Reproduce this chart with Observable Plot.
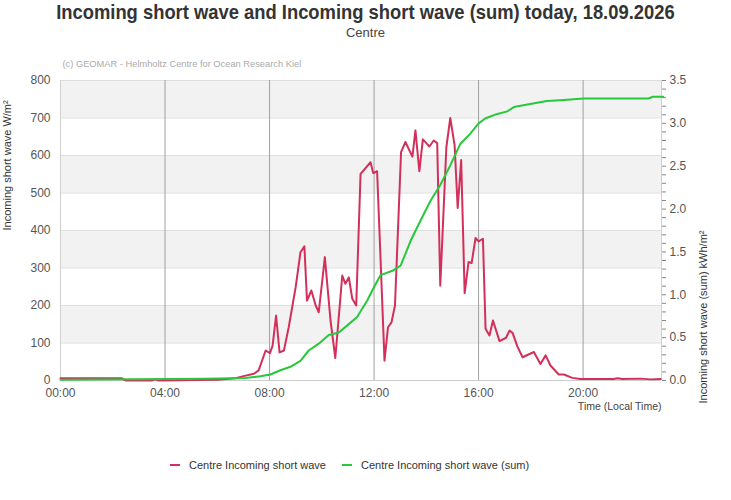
<!DOCTYPE html>
<html><head><meta charset="utf-8">
<script src="https://cdn.jsdelivr.net/npm/d3@7"></script>
<script src="https://cdn.jsdelivr.net/npm/@observablehq/plot@0.6"></script>
<style>
body{margin:0;background:#fff;font-family:"Liberation Sans",Arial,sans-serif;}
#wrap{width:731px;position:relative;}
#head{height:50px;position:relative;}
#title{position:absolute;left:0;right:0;top:0;line-height:24px;text-align:center;font-family:"Liberation Sans",Arial,sans-serif;font-weight:bold;font-size:21px;color:#333;}
#title span{display:inline-block;transform:scaleX(0.875);transform-origin:center;white-space:nowrap;}
#sub{position:absolute;left:0;right:0;top:25px;line-height:16px;text-align:center;font-size:13px;color:#444;}
#legend{height:70px;position:relative;font-size:11px;color:#333;}
.item{position:absolute;top:28px;line-height:14px;white-space:nowrap;}
.mk{display:inline-block;width:10px;height:2px;vertical-align:middle;margin-right:9px;position:relative;top:-1px;}
</style></head>
<body>
<div id="wrap">
  <div id="head"><div id="title"><span></span></div><div id="sub"></div></div>
  <div id="chart"></div>
  <div id="legend"></div>
</div>
<script>
const titleText = "Incoming short wave and Incoming short wave (sum) today, 18.09.2026";
const subtitleText = "Centre";
const creditText = "(c) GEOMAR - Helmholtz Centre for Ocean Research Kiel";
const leftLabel = "Incoming short wave W/m²";
const rightLabel = "Incoming short wave (sum) kWh/m²";
const xLabel = "Time (Local Time)";
const seriesNames = ["Centre Incoming short wave", "Centre Incoming short wave (sum)"];
const seriesColors = ["#d2305a", "#27c83a"];

const xTickHours = [0, 4, 8, 12, 16, 20];
const leftTicks = [0, 100, 200, 300, 400, 500, 600, 700, 800];
const rightMax = 3.5;

const waveTimes = ["00:00","02:20","02:30","03:30","03:37","03:45","06:00","06:42","07:05","07:24","07:35","07:51","08:01","08:07","08:15","08:23","08:33","08:44","09:00","09:11","09:20","09:26","09:36","09:46","09:53","10:07","10:20","10:31","10:47","10:54","11:02","11:10","11:19","11:29","11:52","11:58","12:07","12:24","12:32","12:40","12:48","13:02","13:12","13:28","13:35","13:44","13:52","14:00","14:07","14:17","14:25","14:32","14:46","14:55","15:05","15:12","15:20","15:28","15:37","15:44","15:53","16:00","16:10","16:16","16:25","16:33","16:48","17:03","17:11","17:18","17:29","17:41","18:07","18:22","18:34","18:45","19:04","19:16","19:35","19:54","21:10","21:19","21:30","22:12","22:35","22:58"];
const waveValues = [6,6,0,0,3,0,2,6,13,18,27,80,73,93,173,75,80,142,249,342,358,213,240,200,182,329,160,60,280,258,275,218,200,551,582,553,558,53,142,155,200,609,636,597,667,558,643,633,624,640,633,253,622,700,627,460,588,233,316,313,380,371,378,138,120,160,105,114,133,127,91,62,76,44,67,40,16,16,7,4,4,6,4,5,3,4];

const sumTimes = ["00:00","05:33","07:05","07:39","08:02","08:25","08:48","09:11","09:30","09:53","10:16","10:39","10:58","11:21","11:44","12:00","12:15","12:42","13:01","13:24","13:47","14:10","14:32","14:55","15:18","15:41","16:00","16:16","16:43","17:06","17:21","17:52","18:37","19:08","20:01","22:30","22:40","23:04"];
const sumValues = [0.01,0.02,0.03,0.05,0.07,0.12,0.16,0.23,0.35,0.43,0.53,0.56,0.64,0.74,0.93,1.09,1.23,1.28,1.34,1.63,1.87,2.1,2.28,2.51,2.76,2.88,3.0,3.06,3.11,3.14,3.19,3.22,3.26,3.27,3.29,3.29,3.31,3.31];

const toHours = s => { const [h, m] = s.split(":").map(Number); return h + m / 60; };
const wave = waveTimes.map((t, i) => ({x: toHours(t), y: waveValues[i]}));
const sum = sumTimes.map((t, i) => ({x: toHours(t), y: sumValues[i]}));
const k = 800 / rightMax; // right-axis values mapped onto the left scale
const bands = [[100,200],[300,400],[500,600],[700,800]];
const rightMinor = d3.range(0, 36).map(i => i / 10);
const pad = h => String(h).padStart(2, "0") + ":00";

document.querySelector("#title span").textContent = titleText;
document.getElementById("sub").textContent = subtitleText;

const chart = Plot.plot({
  width: 731, height: 380,
  marginTop: 30, marginBottom: 50, marginLeft: 60, marginRight: 70,
  style: {fontFamily: '"Liberation Sans", Arial, sans-serif', background: "#fff"},
  x: {domain: [0, 23]},
  y: {domain: [0, 800]},
  marks: [
    Plot.rect(bands, {y1: d => d[0], y2: d => d[1], fill: "#f2f2f2"}),
    Plot.ruleY(leftTicks.slice(1), {stroke: "#dedede"}),
    Plot.ruleX(xTickHours.slice(1), {stroke: "#a0a0a0"}),
    Plot.ruleX([0, 23], {stroke: "#d0d0d0"}),
    Plot.ruleY([0], {stroke: "#cccccc"}),
    Plot.axisY({ticks: leftTicks, tickSize: 0, tickPadding: 10, fontSize: 12, fill: "#555", label: null}),
    Plot.axisY(rightMinor.map(v => v * k), {anchor: "right", tickSize: 4, tickPadding: 4, fontSize: 12, fill: "#555", stroke: "#888", label: null,
      tickFormat: d => { const v = d / k; return Math.abs(v * 2 - Math.round(v * 2)) < 1e-6 ? v.toFixed(1) : ""; }}),
    Plot.axisX({ticks: xTickHours, tickSize: 0, tickPadding: 8, fontSize: 12, fill: "#555", label: null, tickFormat: pad}),
    Plot.line(wave, {x: "x", y: "y", stroke: seriesColors[0], strokeWidth: 2}),
    Plot.line(sum, {x: "x", y: d => d.y * k, stroke: seriesColors[1], strokeWidth: 2}),
    Plot.text([leftLabel], {frameAnchor: "left", rotate: -90, dx: -53, fontSize: 11, fill: "#333"}),
    Plot.text([rightLabel], {frameAnchor: "right", rotate: -90, dx: 42, fontSize: 11, fill: "#333"}),
    Plot.text([xLabel], {frameAnchor: "bottom-right", textAnchor: "end", dy: 29, fontSize: 10.5, fill: "#444"}),
    Plot.text([creditText], {frameAnchor: "top-left", textAnchor: "start", dx: 2, dy: -20, fontSize: 9.3, fill: "#aaa"})
  ]
});
document.getElementById("chart").appendChild(chart);

const lg = document.getElementById("legend");
const lefts = [170, 342];
seriesNames.forEach((n, i) => {
  const it = document.createElement("div");
  it.className = "item";
  it.style.left = lefts[i] + "px";
  const mk = document.createElement("span");
  mk.className = "mk";
  mk.style.background = seriesColors[i];
  it.appendChild(mk);
  it.appendChild(document.createTextNode(n));
  lg.appendChild(it);
});
</script>
</body></html>
